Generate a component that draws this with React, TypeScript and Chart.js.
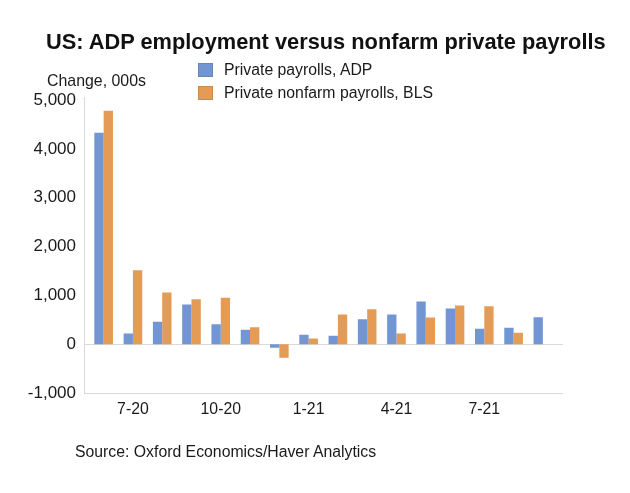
import React, { useEffect, useRef } from "react";
import { Chart, registerables } from "chart.js";

Chart.register(...registerables);

const months = [
  "6-20", "7-20", "8-20", "9-20", "10-20", "11-20", "12-20",
  "1-21", "2-21", "3-21", "4-21", "5-21", "6-21", "7-21", "8-21", "9-21",
];
const shownTickLabels = ["7-20", "10-20", "1-21", "4-21", "7-21"];
const adpValues = [4330, 220, 457, 813, 410, 294, -75, 192, 171, 512, 608, 874, 731, 314, 334, 553];
const blsValues: (number | null)[] = [4780, 1516, 1060, 922, 950, 348, -280, 116, 608, 717, 219, 547, 792, 778, 232, null];
const yTicks = [-1000, 0, 1000, 2000, 3000, 4000, 5000];

const BLUE = "#7196d3";
const ORANGE = "#e49b55";
const FONT = "'Liberation Sans', Arial, sans-serif";

const axisLines = {
  id: "axisLines",
  beforeDatasetsDraw(chart: any) {
    const { ctx, chartArea, scales } = chart;
    const y = scales.y;
    const left = chartArea.left - 5;
    const right = chartArea.right + 5.5;
    ctx.save();
    ctx.strokeStyle = "#d9d9d9";
    ctx.lineWidth = 1;
    ctx.beginPath();
    const y0 = Math.round(y.getPixelForValue(0)) + 0.5;
    const yb = Math.round(y.getPixelForValue(-1000)) + 0.5;
    const yt = Math.round(y.getPixelForValue(5000));
    ctx.moveTo(left, y0);
    ctx.lineTo(right, y0);
    ctx.moveTo(left, yb);
    ctx.lineTo(right, yb);
    ctx.moveTo(Math.round(left) + 0.5, yt - 3);
    ctx.lineTo(Math.round(left) + 0.5, yb);
    ctx.stroke();
    ctx.restore();
  },
};

export default function App() {
  const ref = useRef<HTMLCanvasElement | null>(null);

  useEffect(() => {
    if (!ref.current) return;
    const chart = new Chart(ref.current, {
      type: "bar",
      data: {
        labels: months,
        datasets: [
          { label: "Private payrolls, ADP", data: adpValues, backgroundColor: BLUE },
          { label: "Private nonfarm payrolls, BLS", data: blsValues as any, backgroundColor: ORANGE },
        ],
      },
      options: {
        responsive: false,
        animation: false,
        layout: { padding: { top: 100, left: 0, right: 72.5, bottom: 0 } },
        plugins: {
          legend: { display: false },
          tooltip: { enabled: false },
          title: { display: false },
        },
        datasets: {
          bar: { categoryPercentage: 0.636, barPercentage: 1.0 },
        },
        scales: {
          x: {
            grid: { display: false, drawTicks: false },
            border: { display: false },
            ticks: {
              autoSkip: false,
              maxRotation: 0,
              minRotation: 0,
              padding: 7,
              color: "#1a1a1a",
              font: { family: FONT, size: 15.8 },
              callback: (_v: any, i: number) =>
                shownTickLabels.includes(months[i]) ? months[i] : "",
            },
            afterFit: (s: any) => {
              s.height = 100;
            },
          },
          y: {
            min: -1000,
            max: 5000,
            afterBuildTicks: (s: any) => {
              s.ticks = yTicks.map((v) => ({ value: v }));
            },
            grid: { display: false, drawTicks: false },
            border: { display: false },
            ticks: {
              padding: 13,
              color: "#1a1a1a",
              font: { family: FONT, size: 17 },
              callback: (v: any) => Number(v).toLocaleString("en-US"),
            },
            afterFit: (s: any) => {
              s.width = 89;
            },
          },
        },
      },
      plugins: [axisLines],
    });
    return () => chart.destroy();
  }, []);

  const text: React.CSSProperties = {
    position: "absolute",
    fontFamily: FONT,
    color: "#1a1a1a",
    whiteSpace: "nowrap",
    lineHeight: 1,
    transform: "translateY(-50%)",
  };

  return (
    <div style={{ position: "fixed", left: 0, top: 0, width: 630, height: 493, background: "#fff" }}>
      <canvas ref={ref} width={630} height={493} style={{ position: "absolute", left: 0, top: 0 }} />
      <div style={{ ...text, left: 46, top: 42, fontSize: 21.8, fontWeight: "bold", color: "#111" }}>
        US: ADP employment versus nonfarm private payrolls
      </div>
      <div style={{ ...text, left: 47, top: 81, fontSize: 15.9 }}>Change, 000s</div>
      <div style={{ position: "absolute", left: 198, top: 63, width: 15, height: 14, background: BLUE, border: "1px solid #6a86b8", boxSizing: "border-box" }} />
      <div style={{ ...text, left: 224, top: 70, fontSize: 15.8 }}>Private payrolls, ADP</div>
      <div style={{ position: "absolute", left: 198, top: 86, width: 15, height: 14, background: ORANGE, border: "1px solid #c98a4c", boxSizing: "border-box" }} />
      <div style={{ ...text, left: 224, top: 93, fontSize: 15.8 }}>Private nonfarm payrolls, BLS</div>
      <div style={{ ...text, left: 75, top: 452, fontSize: 15.8 }}>Source: Oxford Economics/Haver Analytics</div>
    </div>
  );
}
